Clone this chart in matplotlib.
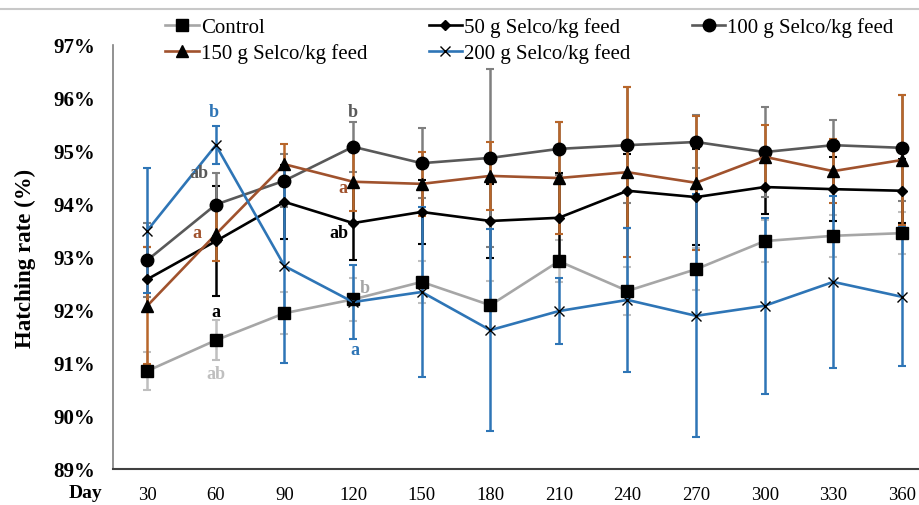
import matplotlib
matplotlib.use("Agg")
import matplotlib.pyplot as plt
from matplotlib.lines import Line2D

plt.rcParams['font.family'] = ['Liberation Serif', 'DejaVu Serif']

# data
days = ['30', '60', '90', '120', '150', '180', '210', '240', '270', '300', '330', '360']
control = [90.85, 91.43, 91.94, 92.20, 92.53, 92.09, 92.92, 92.36, 92.77, 93.30, 93.40, 93.45]
g50 = [92.58, 93.30, 94.04, 93.64, 93.85, 93.68, 93.74, 94.25, 94.13, 94.32, 94.28, 94.25]
g100 = [92.94, 93.99, 94.44, 95.08, 94.77, 94.87, 95.04, 95.11, 95.17, 94.98, 95.11, 95.06]
g150 = [92.08, 93.43, 94.75, 94.42, 94.38, 94.53, 94.49, 94.60, 94.40, 94.89, 94.62, 94.83]
g200 = [93.50, 95.11, 92.83, 92.15, 92.34, 91.62, 91.98, 92.19, 91.89, 92.08, 92.53, 92.25]

control_err = [0.35, 0.38, 0.40, 0.40, 0.40, 0.45, 0.40, 0.45, 0.40, 0.40, 0.40, 0.40]
g50_err = [0.60, 1.04, 0.70, 0.70, 0.60, 0.70, 0.85, 0.70, 0.90, 0.50, 0.60, 0.60]
g100_err = [0.70, 0.60, 0.50, 0.47, 0.66, 1.68, 0.50, 1.10, 0.50, 0.85, 0.47, 1.00]
g150_err = [1.10, 0.50, 0.39, 0.56, 0.60, 0.64, 1.06, 1.60, 1.26, 0.60, 0.60, 1.23]
g200_err = [1.18, 0.36, 1.83, 0.70, 1.60, 1.90, 0.62, 1.36, 2.29, 1.66, 1.62, 1.31]

# significance letters: (x position, y value, text, colour)
letters = [
    (0.97, 95.74, 'b', '#2E75B6'),
    (0.75, 94.60, 'ab', '#595959'),
    (0.72, 93.47, 'a', '#A0522D'),
    (1.00, 91.98, 'a', 'black'),
    (1.00, 90.80, 'ab', '#BFBFBF'),
    (3.00, 95.75, 'b', '#595959'),
    (2.85, 94.32, 'a', '#A0522D'),
    (2.80, 93.47, 'ab', 'black'),
    (3.17, 92.43, 'b', '#A6A6A6'),
    (3.03, 91.26, 'a', '#2E75B6'),
]

fig = plt.figure(figsize=(9.19, 5.06), dpi=100)
ax = fig.add_axes([113 / 919, 36 / 506, 806 / 919, 424 / 506])

x = list(range(len(days)))

series = [
    ('Control', control, control_err, '#A6A6A6', '#BFBFBF', 's', 8),
    ('50 g Selco/kg feed', g50, g50_err, 'black', 'black', 'D', 5),
    ('100 g Selco/kg feed', g100, g100_err, '#595959', '#7F7F7F', 'o', 9),
    ('150 g Selco/kg feed', g150, g150_err, '#A0522D', '#B8662A', '^', 8),
    ('200 g Selco/kg feed', g200, g200_err, '#2E75B6', '#2E75B6', 'x', 7),
]

handles = {}
for i, (name, vals, err, lc, ec, mk, ms) in enumerate(series):
    ax.errorbar(x, vals, yerr=err, fmt='none', ecolor=ec, elinewidth=1.8,
                capsize=3, capthick=1.5, zorder=2 + i * 0.1)
    h, = ax.plot(x, vals, color=lc, lw=1.9, marker=mk, ms=ms,
                 mfc='black', mec='black', mew=1.0, zorder=3 + i * 0.1)
    handles[name] = h

for xp, yp, t, c in letters:
    ax.text(xp, yp, t, color=c, fontsize=13, fontweight='bold',
            ha='center', va='center', zorder=5)

ax.set_xlim(-0.5, 11.25)
ax.set_ylim(89, 97)
ax.set_xticks(x)
ax.set_xticklabels(days, fontsize=13.5)
ax.set_yticks(range(89, 98))
ax.set_yticklabels([f'{v}%' for v in range(89, 98)], fontsize=15, fontweight='bold')
ax.tick_params(axis='x', length=0, pad=12)
ax.tick_params(axis='y', length=0, pad=13)

for s in ['top', 'right']:
    ax.spines[s].set_visible(False)
ax.spines['left'].set_color('#7F7F7F')
ax.spines['left'].set_linewidth(1.2)
ax.spines['bottom'].set_color('#404040')
ax.spines['bottom'].set_linewidth(1.5)

ax.set_ylabel('Hatching rate (%)', fontsize=16.5, fontweight='bold')
ax.yaxis.set_label_coords(-0.096, 0.5)
fig.text(85 / 919, 1 - 494 / 506, 'Day', fontsize=14, fontweight='bold',
         ha='center', va='center')

order = ['Control', '150 g Selco/kg feed', '50 g Selco/kg feed',
         '200 g Selco/kg feed', '100 g Selco/kg feed']
fig.legend([handles[n] for n in order], order, ncol=3, frameon=False,
           fontsize=15, loc='upper left', bbox_to_anchor=(157 / 919, 1 - 10 / 506),
           handlelength=1.6, handletextpad=0.1, columnspacing=2.95,
           labelspacing=0.3, borderaxespad=0)

fig.add_artist(Line2D([0, 1], [1 - 10 / 506, 1 - 10 / 506], color='#C8C8C8', lw=1.5))

fig.savefig('out.png', dpi=100)
